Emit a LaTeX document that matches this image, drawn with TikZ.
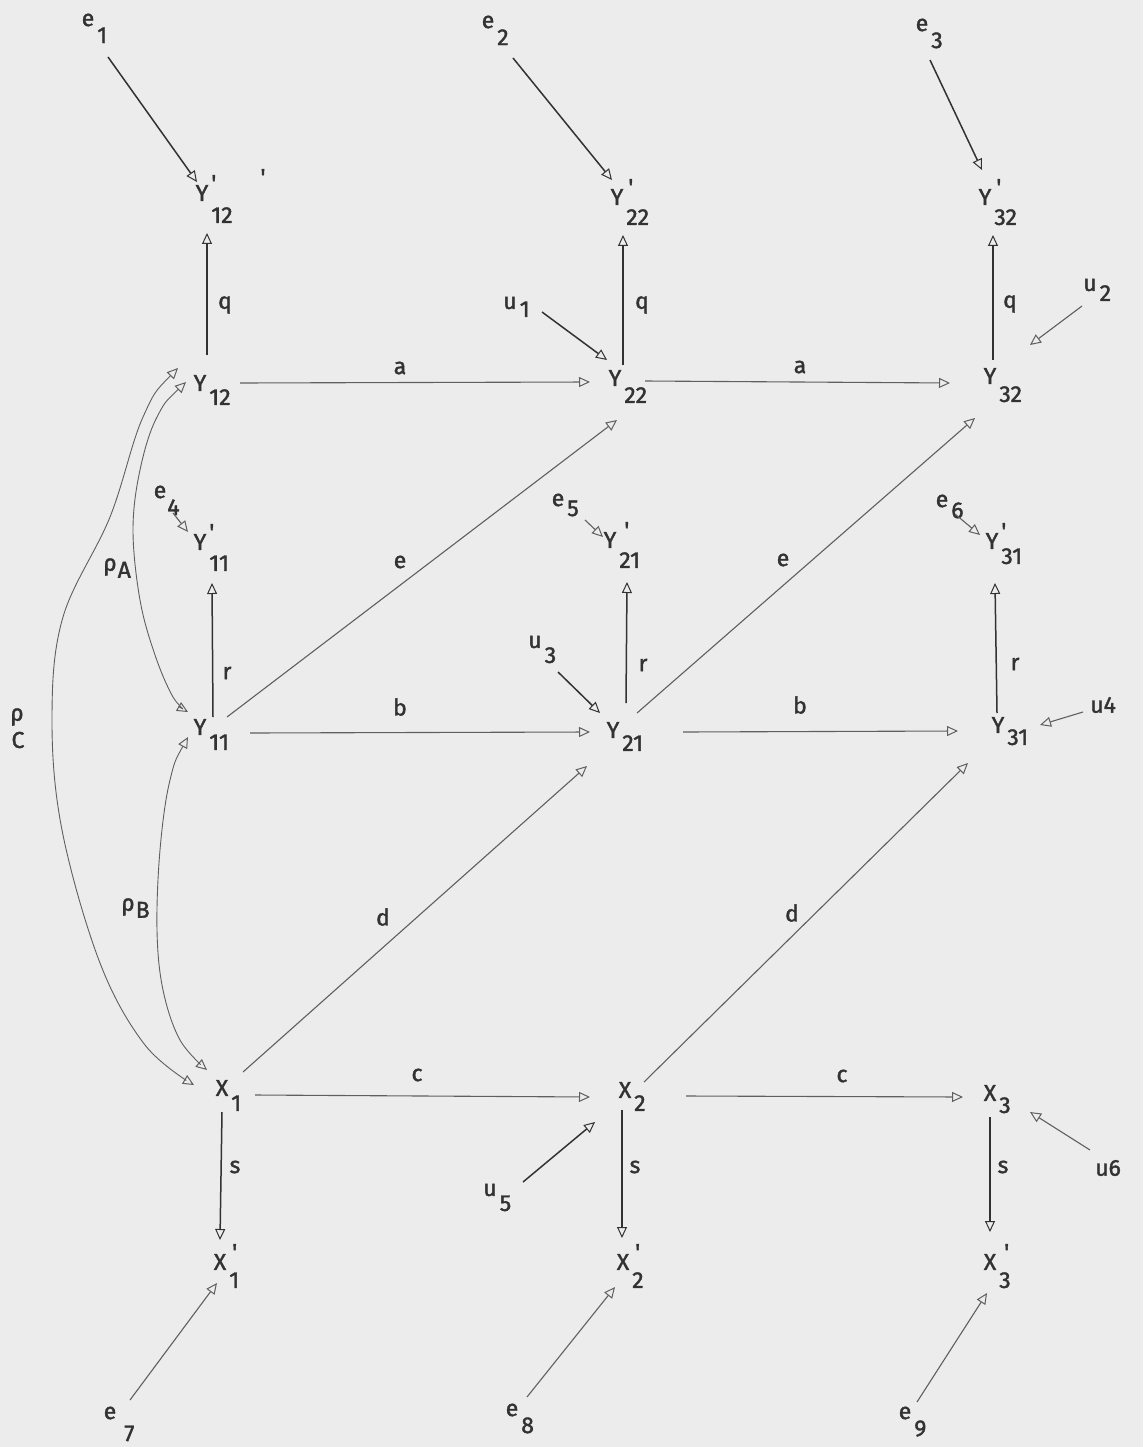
\documentclass[tikz,border=0pt]{standalone}
\usepackage{fontspec}
\setmainfont{Fira Sans}[FakeBold=1.6]
\usetikzlibrary{arrows.meta,calc}
\definecolor{bg}{RGB}{236,236,236}
\definecolor{ink}{RGB}{50,50,50}
\definecolor{inkl}{RGB}{95,95,95}
\newcommand\sbx[3][3pt]{\rlap{\smash{\kern#1\raisebox{#2}{#3}}}}
\newcommand\prm[1][4pt]{\rlap{\smash{\kern#1\raisebox{10pt}{\textquotesingle}}}}
\tikzset{
  lab/.style={inner sep=0pt, text=ink, font=\fontsize{23}{27}\selectfont},
  tipo/.tip={Triangle[open,length=11pt,width=10pt,line width=1pt]},
  arr/.style={draw=ink, line width=1.5pt, -tipo},
  arrl/.style={draw=inkl, line width=1.1pt, -tipo},
  curv/.style={draw=inkl, line width=0.9pt, tipo-tipo},
}
\begin{document}
\begin{tikzpicture}[x=1pt,y=-1pt]
\fill[bg] (0,0) rectangle (1143,1447);
\useasboundingbox (0,0) rectangle (1143,1447);

% ---- nodes
\node[lab] (e1) at (88,20) {e\sbx{-17pt}{1}};
\node[lab] (e2) at (488,22) {e\sbx{-17pt}{2}};
\node[lab] (e3) at (922,25) {e\sbx{-17pt}{3}};
\node[lab] (Yp12) at (202,193) {Y\prm[3pt]\sbx{-22pt}{12}};
\node[lab] (Yp22) at (617,197) {Y\prm[5pt]\sbx{-20pt}{22}};
\node[lab] (Yp32) at (985,197) {Y\prm[5pt]\sbx{-20pt}{32}};
\node[lab] (tick) at (263,177) {\textquotesingle};
\node[lab] (Y12) at (200,383) {Y\sbx{-14pt}{12}};
\node[lab] (Y22) at (615,378) {Y\sbx{-17pt}{22}};
\node[lab] (Y32) at (990,376) {Y\sbx{-18pt}{32}};
\node[lab] (Yp11) at (200,542) {Y\prm[3pt]\sbx{-21pt}{11}};
\node[lab] (Yp21) at (610,540) {Y\prm[8pt]\sbx{-20pt}{21}};
\node[lab] (Yp31) at (992,541) {Y\prm[3pt]\sbx{-15pt}{31}};
\node[lab] (Y11) at (200,727) {Y\sbx{-15pt}{11}};
\node[lab] (Y21) at (613,730) {Y\sbx{-13pt}{21}};
\node[lab] (Y31) at (998,725) {Y\sbx{-12pt}{31}};
\node[lab] (X1) at (222,1088) {X\sbx{-15pt}{1}};
\node[lab] (X2) at (625,1090) {X\sbx{-13pt}{2}};
\node[lab] (X3) at (990,1093) {X\sbx{-12pt}{3}};
\node[lab] (Xp1) at (220,1262) {X\prm[6pt]\sbx{-18pt}{1}};
\node[lab] (Xp2) at (623,1262) {X\prm[6pt]\sbx{-18pt}{2}};
\node[lab] (Xp3) at (990,1262) {X\prm[8pt]\sbx{-18pt}{3}};

\node[lab] (u1) at (510,303) {u\sbx{-8pt}{1}};
\node[lab] (u2) at (1090,285) {u\sbx{-10pt}{2}};
\node[lab] (u3) at (535,642) {u\sbx{-15pt}{3}};
\node[lab] (u4) at (1103,705) {u4};
\node[lab] (u5) at (490,1190) {u\sbx{-15pt}{5}};
\node[lab] (u6) at (1108,1168) {u6};

\node[lab] (e4) at (160,492) {e\sbx[1pt]{-17pt}{4}};
\node[lab] (e5) at (558,500) {e\sbx{-10pt}{5}};
\node[lab] (e6) at (942,501) {e\sbx{-11pt}{6}};
\node[lab] (e7) at (110,1413) {e\sbx[8pt]{-22pt}{7}};
\node[lab] (e8) at (512,1410) {e\sbx{-17pt}{8}};
\node[lab] (e9) at (905,1413) {e\sbx{-17pt}{9}};

\node[lab] (rA) at (110,567) {ρ\sbx[1pt]{-7pt}{A}};
\node[lab] (rB) at (128,907) {ρ\sbx[1pt]{-7pt}{B}};
\node[lab] (rC) at (17,717) {ρ};
\node[lab] (rC2) at (18,740) {C};

% edge labels
\node[lab] (lq1) at (225,305) {q};
\node[lab] (lq2) at (642,305) {q};
\node[lab] (lq3) at (1010,304) {q};
\node[lab] (la1) at (400,368) {a};
\node[lab] (la2) at (800,367) {a};
\node[lab] (le1) at (400,562) {e};
\node[lab] (le2) at (783,560) {e};
\node[lab] (lr1) at (227,673) {r};
\node[lab] (lr2) at (643,665) {r};
\node[lab] (lr3) at (1015,664) {r};
\node[lab] (lb1) at (400,707) {b};
\node[lab] (lb2) at (800,705) {b};
\node[lab] (ld1) at (383,917) {d};
\node[lab] (ld2) at (792,913) {d};
\node[lab] (lc1) at (417,1075) {c};
\node[lab] (lc2) at (842,1076) {c};
\node[lab] (ls1) at (235,1167) {s};
\node[lab] (ls2) at (635,1167) {s};
\node[lab] (ls3) at (1003,1167) {s};

% ---- disturbance arrows (dark)
\draw[arr] ($(e1)+(20,37)$) -- ($(Yp12)+(-5,-11)$);
\draw[arr] ($(e2)+(25,36)$) -- ($(Yp22)+(-5,-17)$);
\draw[arr] ($(e3)+(8,35)$) -- ($(Yp32)+(-3,-27)$);

% q arrows
\draw[arr] ($(Y12)+(7,-28)$) -- ($(Yp12)+(5,40)$);
\draw[arr] ($(Y22)+(8,-13)$) -- ($(Yp22)+(6,38)$);
\draw[arr] ($(Y32)+(3,-16)$) -- ($(Yp32)+(8,38)$);

% a arrows
\draw[arrl] ($(Y12)+(40,0)$) -- ($(Y22)+(-25,4)$);
\draw[arrl] ($(Y22)+(30,3)$) -- ($(Y32)+(-40,7)$);

% u arrows
\draw[arr] ($(u1)+(32,9)$) -- ($(Y22)+(-8,-18)$);
\draw[arrl] ($(u2)+(-8,21)$) -- ($(Y32)+(40,-31)$);
\draw[arr] ($(u3)+(23,30)$) -- ($(Y21)+(-13,-17)$);
\draw[arrl] ($(u4)+(-20,7)$) -- ($(Y31)+(42,0)$);
\draw[arr] ($(u5)+(33,-8)$) -- ($(X2)+(-30,32)$);
\draw[arrl] ($(u6)+(-18,-18)$) -- ($(X3)+(40,19)$);

% e diagonals
\draw[arrl] ($(Y11)+(27,-10)$) -- ($(Y22)+(2,42)$);
\draw[arrl] ($(Y21)+(24,-17)$) -- ($(Y32)+(-15,42)$);

% r arrows
\draw[arr] ($(Y11)+(13,-10)$) -- ($(Yp11)+(12,41)$);
\draw[arr] ($(Y21)+(13,-27)$) -- ($(Yp21)+(17,42)$);
\draw[arr] ($(Y31)+(-1,-12)$) -- ($(Yp31)+(3,42)$);

% e4-e6
\draw[arrl] ($(e4)+(13,21)$) -- ($(Yp11)+(-12,-10)$);
\draw[arrl] ($(e5)+(27,20)$) -- ($(Yp21)+(-7,-3)$);
\draw[arrl] ($(e6)+(13,13)$) -- ($(Yp31)+(-12,-6)$);

% b arrows
\draw[arrl] ($(Y11)+(50,6)$) -- ($(Y21)+(-23,2)$);
\draw[arrl] ($(Y21)+(70,2)$) -- ($(Y31)+(-40,6)$);

% d arrows
\draw[arrl] ($(X1)+(21,-16)$) -- ($(Y21)+(-26,36)$);
\draw[arrl] ($(X2)+(19,-8)$) -- ($(Y31)+(-30,38)$);

% c arrows
\draw[arrl] ($(X1)+(33,7)$) -- ($(X2)+(-35,7)$);
\draw[arrl] ($(X2)+(61,6)$) -- ($(X3)+(-27,4)$);

% s arrows
\draw[arr] ($(X1)+(0,24)$) -- ($(Xp1)+(0,-22)$);
\draw[arr] ($(X2)+(-3,20)$) -- ($(Xp2)+(-1,-24)$);
\draw[arr] ($(X3)+(0,24)$) -- ($(Xp3)+(0,-30)$);

% e7-e9
\draw[arrl] ($(e7)+(20,-13)$) -- ($(Xp1)+(-3,21)$);
\draw[arrl] ($(e8)+(15,-13)$) -- ($(Xp2)+(-8,25)$);
\draw[arrl] ($(e9)+(12,-11)$) -- ($(Xp3)+(-3,31)$);

% ---- correlation curves
\coordinate (cCa) at ($(Y12)+(-22,-15)$);
\coordinate (cCb) at ($(X1)+(-28,-3)$);
\coordinate (cAa) at ($(Y12)+(-14,-1)$);
\coordinate (cAb) at ($(Y11)+(-12,-15)$);
\coordinate (cBa) at ($(Y11)+(-12,10)$);
\coordinate (cBb) at ($(X1)+(-15,-18)$);
\draw[curv] plot[smooth,tension=0.6] coordinates {(cCa) (143,417) (110,517) (63,617) (52,717) (62,830) (100,963) (145,1045) (cCb)};
\draw[curv] plot[smooth,tension=0.6] coordinates {(cAa) (157,417) (140,470) (133,530) (140,600) (155,655) (173,697) (cAb)};
\draw[curv] plot[smooth,tension=0.6] coordinates {(cBa) (170,780) (160,850) (157,930) (163,990) (180,1040) (cBb)};
\end{tikzpicture}
\end{document}
